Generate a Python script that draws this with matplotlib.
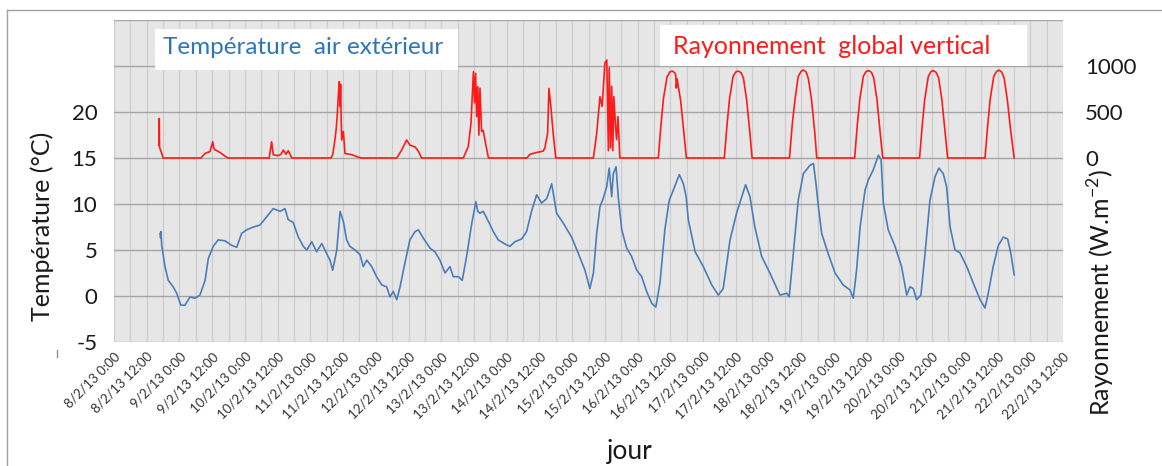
import matplotlib
matplotlib.use("Agg")
import matplotlib.pyplot as plt
from matplotlib.ticker import MultipleLocator, FixedLocator
from matplotlib.lines import Line2D
from matplotlib.patches import Rectangle

plt.rcParams['font.family'] = ['Lato', 'DejaVu Sans']
plt.rcParams['mathtext.fontset'] = 'custom'
plt.rcParams['mathtext.rm'] = 'Lato'

# time in hours since 8/2/13 0:00
temp_hours = [16.9, 17.1, 17.2, 17.5, 18.7, 19.9, 21.7, 23.0, 24.5, 26.0, 27.9, 29.7, 31.5,
              33.4, 34.6, 36.4, 38.2, 40.7, 43.2, 45.0, 46.8, 48.7, 51.1, 53.5, 55.4, 58.4,
              60.9, 62.7, 63.9, 65.7, 67.6, 69.4, 70.7, 72.5, 74.3, 76.2, 78.0, 79.2, 80.2,
              81.7, 82.9, 84.1, 85.3, 86.5, 88.4, 90.2, 91.4, 92.7, 94.5, 96.3, 98.2, 100.0,
              101.2, 102.4, 103.7, 104.9, 106.7, 108.5, 110.4, 111.6, 113.4, 115.9, 117.7,
              119.5, 121.4, 123.2, 124.4, 126.3, 127.7, 129.3, 131.2, 132.7, 133.4, 134.2,
              135.4, 137.3, 139.1, 140.9, 143.4, 145.2, 147.0, 149.5, 151.3, 153.2, 155.0,
              156.8, 158.7, 160.5, 162.3, 164.8, 167.8, 170.3, 172.7, 174.5, 175.8, 177.0,
              178.2, 179.4, 180.7, 181.6, 182.5, 183.1, 184.1, 184.9, 186.2, 188.0, 189.8,
              191.7, 193.5, 195.3, 197.2, 198.7, 200.2, 202.0, 203.6, 205.1, 207.3, 208.8,
              209.8, 210.6, 213.1, 216.1, 219.2, 221.6, 223.4, 225.9, 228.3, 230.2, 231.6,
              233.2, 235.0, 237.5, 240.5, 244.2, 246.7, 247.6, 249.1, 250.9, 252.8, 255.2,
              256.5, 257.5, 258.3, 259.5, 261.9, 264.4, 267.4, 269.9, 271.1, 272.3, 273.6,
              275.4, 276.6, 278.4, 280.3, 281.3, 282.1, 283.9, 286.4, 288.8, 290.7, 291.9,
              293.1, 294.3, 295.9, 297.4, 299.2, 301.1, 302.5, 304.1, 305.3, 306.6, 308.4,
              310.2, 312.7, 315.1, 317.6, 319.4, 320.6, 322.4, 324.3, 326.1, 327.7, 328.9,
              330.1]
temp_values = [6.8, 6.3, 7.0, 5.5, 3.2, 1.7, 1.0, 0.3, -1.0, -1.0, -0.1, -0.25, 0.1,
               1.7, 4.1, 5.4, 6.1, 6.0, 5.5, 5.3, 6.8, 7.2, 7.5, 7.7, 8.4, 9.5,
               9.2, 9.5, 8.3, 8.0, 6.4, 5.4, 5.0, 5.9, 4.8, 5.7, 4.6, 3.9, 2.8,
               5.0, 9.2, 8.1, 6.1, 5.4, 5.0, 4.5, 3.2, 3.9, 3.2, 2.1, 1.2, 1.0,
               -0.1, 0.5, -0.4, 1.0, 3.6, 6.1, 7.0, 7.2, 6.3, 5.2, 4.8,
               3.9, 2.5, 3.2, 2.1, 2.1, 1.7, 4.3, 7.9, 10.25, 9.2, 9.0,
               9.2, 8.1, 7.0, 6.1, 5.65, 5.4, 5.9, 6.2, 7.0, 9.3, 11.0,
               10.1, 10.6, 12.2, 9.0, 7.9, 6.4, 4.6, 2.8, 0.8, 2.5, 6.8,
               9.7, 10.6, 11.9, 13.9, 10.8, 13.3, 14.05, 10.8, 7.2, 5.2, 4.3,
               2.8, 2.1, 0.5, -0.8, -1.2, 1.4, 7.2, 10.4, 11.5, 13.2, 12.2,
               10.8, 8.3, 4.8, 3.2, 1.2, 0.1, 0.8, 6.1, 9.0, 10.8, 12.1,
               10.8, 7.5, 4.3, 2.5, 0.1, 0.3, -0.1, 4.6, 10.4, 13.3, 14.2,
               14.4, 12.0, 9.7, 6.8, 4.6, 2.5, 1.2, 0.65, -0.25, 2.8, 7.5,
               11.5, 12.6, 13.7, 15.3, 14.8, 10.1, 7.2, 5.4, 3.2, 0.1, 1.0,
               0.8, -0.4, 0.1, 4.6, 10.4, 13.0, 13.9, 13.3, 11.9, 7.5, 5.0,
               4.7, 3.2, 1.4, -0.4, -1.3, 0.3, 3.2, 5.5, 6.4, 6.2, 4.6,
               2.3]

rad_hours = [16.4, 16.6, 16.7, 17.0, 17.5, 18.0,
             31.9, 33.4, 35.2, 36.2, 36.6, 37.0, 38.9, 40.7, 41.8,
             56.9, 57.8, 58.4, 60.1, 61.2, 62.1, 63.1, 63.9, 65.2,
             79.6, 80.2, 81.0, 81.5, 81.9, 82.3, 82.6, 82.9, 83.1, 83.3, 83.5, 84.1, 84.7,
             87.3, 89.5, 90.8,
             103.7, 105.5, 107.3, 108.5, 110.4, 111.6, 112.8,
             128.1, 129.9, 130.9, 131.4, 131.8, 132.2, 132.6, 133.0, 133.4, 133.8, 134.2,
             134.8, 135.4, 136.0, 137.3,
             151.4, 152.5, 155.0, 157.4, 158.0, 159.0, 159.5, 160.2, 161.1, 162.0,
             175.8, 177.0, 178.2, 179.0, 180.0, 180.7, 181.3, 181.6, 182.1, 182.5, 182.9,
             183.3, 183.9, 184.3, 184.8, 185.5,
             199.6, 200.6, 201.5, 202.8, 203.8, 204.8, 205.6, 206.0, 206.2, 206.5, 207.8,
             208.9, 209.9,
             223.8, 224.8, 225.7, 227.0, 228.0, 229.0, 230.0, 230.8, 232.0, 233.1, 234.0,
             247.7, 248.7, 249.7, 250.9, 251.9, 252.8, 253.8, 254.6, 255.8, 257.0, 257.7,
             271.6, 272.6, 273.5, 274.8, 275.8, 276.8, 277.8, 278.6, 279.8, 280.9, 281.9,
             295.4, 296.4, 297.3, 298.6, 299.6, 300.5, 301.5, 302.4, 303.6, 304.7, 305.7,
             319.4, 320.4, 321.3, 322.6, 323.6, 324.5, 325.5, 326.4, 327.6, 328.8, 330.1]
rad_values = [140, 430, 120, 90, 50, 0,
              0, 50, 70, 177, 110, 90, 60, 20, 0,
              0, 177, 35, 25, 40, 87, 40, 80, 0,
              0, 35, 196, 320, 486, 700, 830, 560, 800, 420, 196, 290, 50,
              35, 10, 0,
              0, 87, 196, 140, 120, 75, 0,
              0, 123, 377, 700, 938, 600, 920, 450, 775, 250, 760,
              290, 300, 200, 0,
              0, 40, 60, 75, 110, 268, 757, 558, 250, 0,
              0, 268, 666, 560, 1030, 1065, 80, 980, 110, 780, 80,
              666, 350, 200, 450, 0,
              0, 370, 650, 880, 935, 945, 925, 900, 760, 860, 620,
              300, 0,
              0, 360, 640, 885, 935, 945, 925, 870, 630, 300, 0,
              0, 360, 630, 884, 940, 957, 935, 866, 630, 270, 0,
              0, 370, 640, 890, 940, 950, 930, 870, 630, 290, 0,
              0, 360, 640, 885, 940, 950, 930, 870, 630, 300, 0,
              0, 360, 640, 885, 940, 955, 935, 870, 630, 300, 0]

tick_labels = ["8/2/13 0:00", "8/2/13 12:00", "9/2/13 0:00", "9/2/13 12:00",
               "10/2/13 0:00", "10/2/13 12:00", "11/2/13 0:00", "11/2/13 12:00",
               "12/2/13 0:00", "12/2/13 12:00", "13/2/13 0:00", "13/2/13 12:00",
               "14/2/13 0:00", "14/2/13 12:00", "15/2/13 0:00", "15/2/13 12:00",
               "16/2/13 0:00", "16/2/13 12:00", "17/2/13 0:00", "17/2/13 12:00",
               "18/2/13 0:00", "18/2/13 12:00", "19/2/13 0:00", "19/2/13 12:00",
               "20/2/13 0:00", "20/2/13 12:00", "21/2/13 0:00", "21/2/13 12:00",
               "22/2/13 0:00", "22/2/13 12:00"]
temp_ticks = [-5, 0, 5, 10, 15, 20, 25, 30]
temp_tick_labels = ["-5", "0", "5", "10", "15", "20", "", ""]
rad_ticks = [0, 500, 1000]

W, H = 1162, 466
fig = plt.figure(figsize=(W / 100, H / 100), dpi=100)
ax = fig.add_axes([114 / W, 1 - 342 / H, 949 / W, 322 / H])
ax.set_facecolor('#e6e6e6')

ax.plot(temp_hours, temp_values, color='#4a7ebb', lw=1.2)
ax.set_xlim(0, 348)
ax.set_ylim(-5, 30)

xticks = [12 * i for i in range(len(tick_labels))]
ax.xaxis.set_major_locator(FixedLocator(xticks))
ax.xaxis.set_minor_locator(MultipleLocator(6))
ax.set_xticks(xticks)
ax.set_xticklabels(tick_labels, rotation=45, ha='right', rotation_mode='anchor',
                   fontsize=9.5, color='#333333')
ax.set_yticks(temp_ticks)
ax.set_yticklabels(temp_tick_labels, fontsize=16, color='#1a1a1a')
ax.tick_params(axis='both', which='both', length=0)
ax.tick_params(axis='x', pad=6)
ax.tick_params(axis='y', pad=12)
ax.grid(True, axis='x', which='both', color='#cdcdcd', lw=0.9)
ax.grid(True, axis='y', which='major', color='#a6a6a6', lw=1.0)
ax.set_axisbelow(True)
for s in ax.spines.values():
    s.set_visible(False)

ax.set_ylabel('Température (°C)', fontsize=18, color='#1a1a1a')
ax.yaxis.set_label_coords(-0.063, 0.36)
ax.set_xlabel('jour', fontsize=19, color='#1a1a1a')
ax.xaxis.set_label_coords(0.544, -0.30)

ax2 = ax.twinx()
ax2.plot(rad_hours, rad_values, color='#ff1a1a', lw=1.2)
ax2.set_ylim(-2000, 1500)
ax2.set_yticks(rad_ticks)
ax2.set_yticklabels([str(v) for v in rad_ticks], fontsize=16, color='#1a1a1a')
ax2.tick_params(axis='y', length=0, pad=16)
for s in ax2.spines.values():
    s.set_visible(False)
ax2.set_ylabel(r'Rayonnement (W.m$^{-2}$)', fontsize=18, color='#1a1a1a')
ax2.yaxis.set_label_coords(1.024, 0.155)

# series captions in white boxes
fig.add_artist(Rectangle((155 / W, 1 - 70 / H), 303 / W, 41 / H,
                         transform=fig.transFigure, facecolor='white', edgecolor='none'))
fig.text(163 / W, 1 - 47 / H, 'Température  air extérieur', fontsize=17.5,
         color='#2e75b6', va='center', ha='left')
fig.add_artist(Rectangle((660 / W, 1 - 66 / H), 367 / W, 41 / H,
                         transform=fig.transFigure, facecolor='white', edgecolor='none'))
fig.text(673 / W, 1 - 46 / H, 'Rayonnement  global vertical', fontsize=18,
         color='#ff1a1a', va='center', ha='left')

# outer frame and the stray mark under the left axis
fig.add_artist(Line2D([7 / W, 1], [1 - 10 / H, 1 - 10 / H], color='#a0a0a0', lw=1))
fig.add_artist(Line2D([7 / W, 7 / W], [0, 1 - 10 / H], color='#a0a0a0', lw=1))
fig.add_artist(Line2D([57 / W, 57 / W], [1 - 357 / H, 1 - 350 / H], color='#909090', lw=1))

fig.savefig('out.png', dpi=100)
